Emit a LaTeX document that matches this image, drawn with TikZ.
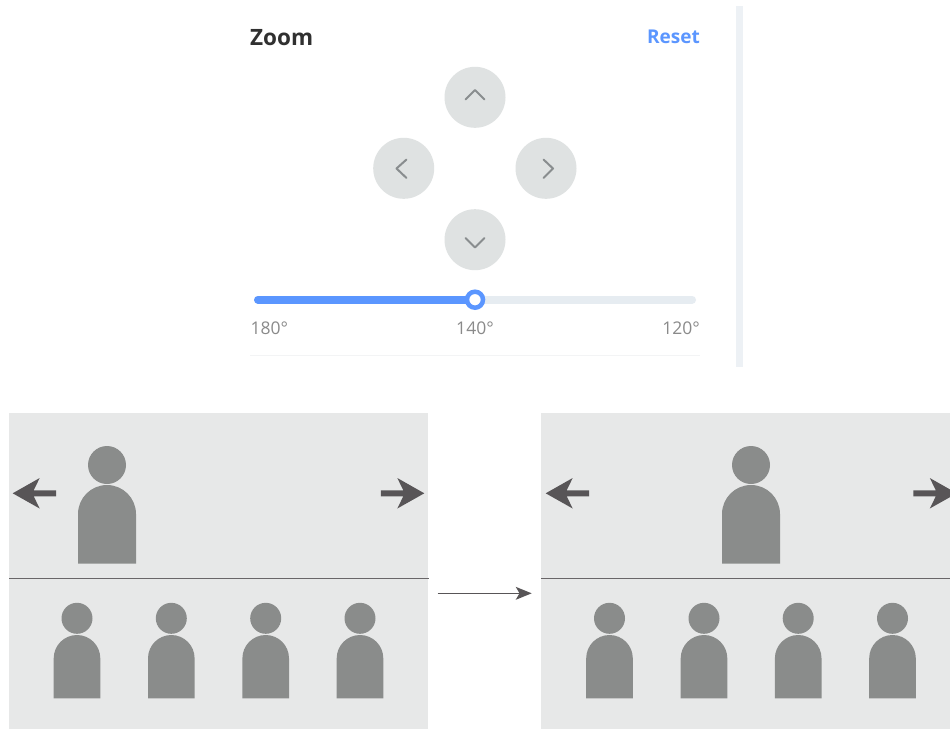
\documentclass[tikz,border=0pt]{standalone}
\usepackage{fontspec}
\setmainfont{Open Sans}
\definecolor{panel}{HTML}{E7E8E8}
\definecolor{figgrey}{HTML}{8A8C8B}
\definecolor{arrowgrey}{HTML}{585557}
\definecolor{btn}{HTML}{DFE2E2}
\definecolor{chev}{HTML}{898D8F}
\definecolor{accent}{HTML}{5B96FF}
\definecolor{track}{HTML}{E6ECF1}
\definecolor{sidebar}{HTML}{EDF1F5}
\definecolor{hair}{HTML}{F3F4F5}
\definecolor{ticktext}{HTML}{8A8A8A}
\definecolor{titletext}{HTML}{303030}
\tikzset{
  panelbox/.style={fill=panel,draw=none,rectangle,inner sep=0pt,outer sep=0pt,minimum width=#1,minimum height=316pt,anchor=north west},
  figure/.style={fill=figgrey,draw=none},
  bigarrow/.style={fill=arrowgrey,draw=none},
  roundbtn/.style={circle,fill=btn,draw=none,minimum size=61pt,inner sep=0pt},
  chevron/.style={draw=chev,line width=2pt,line cap=round,line join=round},
  ticklabel/.style={text=ticktext,font=\fontsize{17.5}{20}\selectfont,inner sep=0pt,anchor=base},
  divider/.style={draw=arrowgrey!90,line width=1pt},
}
% person: centre x, head y, head r, half body width, body top, body bottom
\newcommand{\personfig}[6]{%
  \fill[figure] (#1,#2) circle[radius=#3];
  \fill[figure] (#1-#4,#6) -- (#1-#4,#5+#4) arc[start angle=180,end angle=0,x radius=#4,y radius=-#4] -- (#1+#4,#6) -- cycle;
}
\newcommand{\bigfig}[1]{\personfig{#1}{465}{19}{29}{485}{563.5}}
\newcommand{\smallfig}[1]{\personfig{#1}{618.3}{15.5}{23.3}{635}{698.3}}
% block arrow: tip x, direction (+1 points left, -1 points right)
\newcommand{\blockarrow}[2]{%
  \fill[bigarrow] (#1,493.3) -- (#1+#2*27,478) -- (#1+#2*21,490.3) -- (#1+#2*43.5,490.3) -- (#1+#2*43.5,496.3) -- (#1+#2*21,496.3) -- (#1+#2*27,508.5) -- cycle;
}
\begin{document}
\begin{tikzpicture}[x=1pt,y=-1pt]
\useasboundingbox (0,0) rectangle (950,729);
\clip (0,0) rectangle (950,729);
\fill[white] (0,0) rectangle (950,729);

% control panel
\fill[sidebar] (736,6) rectangle (743,367);
\node[inner sep=0pt,anchor=base west,text=titletext,font=\fontsize{22.5}{26}\selectfont\bfseries] (title) at (250,45.5) {Zoom};
\node[inner sep=0pt,anchor=base east,text=accent,font=\fontsize{19}{22}\selectfont\bfseries] (reset) at (700,43.5) {Reset};

\node[roundbtn] (up) at (475,97.3) {};
\node[roundbtn] (left) at (403.7,168.3) {};
\node[roundbtn] (right) at (546,168.3) {};
\node[roundbtn] (down) at (475,239.7) {};
\draw[chevron] (465.5,99.5) -- (475,90) -- (484.5,99.5);
\draw[chevron] (406.5,159.5) -- (396.5,168.5) -- (406.5,178);
\draw[chevron] (543.5,159.5) -- (553,168.5) -- (543.5,178);
\draw[chevron] (465.5,238) -- (475,247.5) -- (484.5,238);

\draw[track,line width=8pt,line cap=round] (258,299.7) -- (692,299.7);
\draw[accent,line width=8pt,line cap=round] (258,299.7) -- (475,299.7);
\node[circle,fill=white,draw=accent,line width=4.5pt,minimum size=16pt,inner sep=0pt] (knob) at (475,299.7) {};
\node[ticklabel,anchor=base west] (t180) at (250.5,334) {180°};
\node[ticklabel] (t140) at (475,334) {140°};
\node[ticklabel,anchor=base east] (t120) at (700,334) {120°};
\draw[hair,line width=1pt] (250,355) -- (700,355);

% left scene
\node[panelbox=419pt] (scene1) at (9,413) {};
\draw[divider] (9,578) -- (428.5,578);
\bigfig{107}
\blockarrow{12.7}{1}
\blockarrow{424.3}{-1}
\smallfig{77}
\smallfig{171.3}
\smallfig{265.7}
\smallfig{360}

% right scene
\node[panelbox=409pt] (scene2) at (541,413) {};
\draw[divider] (541,578) -- (950,578);
\bigfig{751}
\blockarrow{545.7}{1}
\blockarrow{956.8}{-1}
\smallfig{609.5}
\smallfig{704}
\smallfig{798.2}
\smallfig{892.5}

% connector between the scenes
\coordinate (from) at (437.7,593.3);
\coordinate (to) at (531.7,593.3);
\draw[arrowgrey,line width=1.6pt] (from) -- (520,593.3);
\fill[arrowgrey] (to) -- (515.7,586.8) -- (519.5,593.3) -- (515.7,599.8) -- cycle;
\end{tikzpicture}
\end{document}
